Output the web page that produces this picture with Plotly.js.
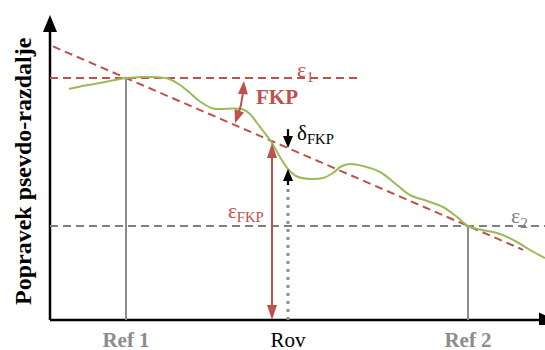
<!DOCTYPE html>
<html><head><meta charset="utf-8">
<script src="https://cdn.plot.ly/plotly-3.0.1.min.js"></script>
<style>html,body{margin:0;padding:0;background:#fff}</style>
</head><body><div id="chart" style="width:545px;height:350px"></div>
<script>
// Station labels and their positions along the baseline
const stationLabels = ['Ref 1', 'Rov', 'Ref 2'];
const stationX = [76, 238, 418];
// Corrections at the two reference stations
const eps1 = 242;
const eps2 = 94;
// Measured pseudo-range correction curve
const curveX = [19, 35, 50, 65, 76, 93, 108, 118, 130, 140, 150, 163, 172, 182, 193, 200, 207, 214, 222, 230, 238, 247, 260, 273, 283, 291, 300, 313, 330, 347, 360, 377, 393, 407, 418, 430, 450, 467, 480, 495];
const curveY = [231, 234.5, 237, 240, 242, 243, 242.7, 241.5, 235, 227, 218.5, 211.5, 211, 211.5, 210.5, 206, 197, 188, 177, 163, 151, 143.5, 141, 142, 147, 153.5, 156, 154, 148, 135, 125, 119, 113, 103, 94, 90.5, 86, 78, 70, 62];
// Crossing of the curve with the FKP plane (epsilon_FKP arrow)
const epsFkpX = 222;

const RED = '#C0504D', GREEN = '#9BBB59', GRAY = '#7F7F7F', LGRAY = '#8C8C8C';
const FONT = 'Liberation Serif, Times New Roman, serif';

const ref1X = stationX[0], rovX = stationX[1], ref2X = stationX[2];
const slope = (eps2 - eps1) / (ref2X - ref1X);
const plane = x => eps1 + slope * (x - ref1X);
const diagX = [3, 473];
const diagY = diagX.map(plane);
const curveAt = x => { for (let i = 0; i < curveX.length - 1; i++) { if (x >= curveX[i] && x <= curveX[i+1]) { const t = (x - curveX[i]) / (curveX[i+1] - curveX[i]); return curveY[i] + t * (curveY[i+1] - curveY[i]); } } return null; };

function head(tx, ty, fx, fy, len, hw) {
  const dx = tx - fx, dy = ty - fy, L = Math.hypot(dx, dy);
  const ux = dx / L, uy = dy / L, bx = tx - ux * len, by = ty - uy * len, px = -uy, py = ux;
  return {type: 'path', xref: 'x', yref: 'y', path: `M${tx},${ty} L${bx + px*hw},${by + py*hw} L${bx - px*hw},${by - py*hw} Z`};
}
function line(x, y, color, width, dash, shape) {
  return {x, y, mode: 'lines', line: {color, width, dash: dash || 'solid', shape: shape || 'linear'}, hoverinfo: 'skip', showlegend: false};
}

const traces = [];
const shapes = [];
// axes
traces.push(line([0, 0], [0, 292], '#000', 2.5));
traces.push(line([0, 495], [0, 0], '#000', 2.5));
shapes.push(Object.assign(head(0, 305, 0, 0, 17, 7), {fillcolor: '#000', line: {width: 0}}));
shapes.push(Object.assign(head(506, 0, 0, 0, 17, 7.5), {fillcolor: '#000', line: {width: 0}}));
// reference levels
traces.push(line([0, 312], [eps1, eps1], RED, 2, '8px,5px'));
traces.push(line([0, 495], [eps2, eps2], GRAY, 2, '8px,5px'));
traces.push(line([ref1X, ref1X], [0, eps1], LGRAY, 2));
traces.push(line([ref2X, ref2X], [0, eps2], LGRAY, 2));
// FKP plane
traces.push(line(diagX, diagY, RED, 2, '8px,5px'));
// rover dotted line
const yPlaneRov = plane(rovX), yCurveRov = curveAt(rovX);
traces.push(line([rovX, rovX], [0, yCurveRov - 20], LGRAY, 3, '3px,5px'));
// measured curve
traces.push(line(curveX, curveY, GREEN, 2, 'solid', 'spline'));
// epsilon FKP arrow
const yTopE = curveAt(epsFkpX);
traces.push(line([epsFkpX, epsFkpX], [10, yTopE - 10], RED, 2));
shapes.push(Object.assign(head(epsFkpX, yTopE, epsFkpX, 0, 15, 5), {fillcolor: RED, line: {width: 0}}));
shapes.push(Object.assign(head(epsFkpX, 0, epsFkpX, yTopE, 15, 5), {fillcolor: RED, line: {width: 0}}));
// delta FKP arrows
traces.push(line([rovX, rovX], [yPlaneRov + 19, yPlaneRov + 6], '#000', 2.2));
shapes.push(Object.assign(head(rovX, yPlaneRov, rovX, yPlaneRov + 19, 12, 5), {fillcolor: '#000', line: {width: 0}}));
traces.push(line([rovX, rovX], [yCurveRov - 16, yCurveRov - 6], '#000', 2.2));
shapes.push(Object.assign(head(rovX, yCurveRov, rovX, yCurveRov - 16, 12, 5), {fillcolor: '#000', line: {width: 0}}));
// FKP arc around Ref 1 intersection
const R = 118, a1 = 1.5 * Math.PI / 180, a2 = 22.5 * Math.PI / 180, da = 11 / R;
const arcPt = a => [ref1X + R * Math.cos(a), eps1 - R * Math.sin(a)];
const arcX = [], arcY = [];
for (let i = 0; i <= 20; i++) { const a = (a1 + da) + (a2 - da - a1 - da) * i / 20; const p = arcPt(a); arcX.push(p[0]); arcY.push(p[1]); }
traces.push(line(arcX, arcY, RED, 2));
{ const t = arcPt(a1), f = arcPt(a1 + 13 / R); shapes.push(Object.assign(head(t[0], t[1], f[0], f[1], 13, 5), {fillcolor: RED, line: {width: 0}})); }
{ const t = arcPt(a2), f = arcPt(a2 - 13 / R); shapes.push(Object.assign(head(t[0], t[1], f[0], f[1], 13, 5), {fillcolor: RED, line: {width: 0}})); }

const ann = (text, x, y, color, size, extra) => Object.assign({text, x, y, xref: 'x', yref: 'y', showarrow: false, font: {family: FONT, size, color}, xanchor: 'center', yanchor: 'middle'}, extra || {});
const annotations = [
  ann('<b>FKP</b>', 227, 223, RED, 21),
  ann('ε<sub>1</sub>', 255.5, 249, RED, 22),
  ann('ε<sub>2</sub>', 469.5, 103, GRAY, 22),
  ann('ε<sub>FKP</sub>', 195.5, 108, RED, 21),
  ann('δ<sub>FKP</sub>', 265, 186, '#000', 21),
  {text: '<b>Popravek psevdo-razdalje</b>', xref: 'paper', yref: 'paper', x: -17.5 / 505, y: (325 - 171.5) / 325, textangle: -90, showarrow: false, font: {family: FONT, size: 24, color: '#000'}, xanchor: 'center', yanchor: 'middle'}
];

const tickText = stationLabels.map(s => s.startsWith('Ref') ? `<b><span style="color:${LGRAY}">${s}</span></b>` : s);

const layout = {
  width: 545, height: 350,
  margin: {l: 40, r: 0, t: 0, b: 25},
  paper_bgcolor: '#fff', plot_bgcolor: '#fff',
  xaxis: {range: [-10, 495], showgrid: false, zeroline: false, showline: false, ticks: '', tickvals: stationX, ticktext: tickText, tickfont: {family: FONT, size: 21, color: '#000'}, fixedrange: true},
  yaxis: {range: [-5, 320], showgrid: false, zeroline: false, showline: false, showticklabels: false, ticks: '', fixedrange: true},
  shapes, annotations, showlegend: false
};
Plotly.newPlot('chart', traces, layout, {staticPlot: true, displayModeBar: false});
</script></body></html>
